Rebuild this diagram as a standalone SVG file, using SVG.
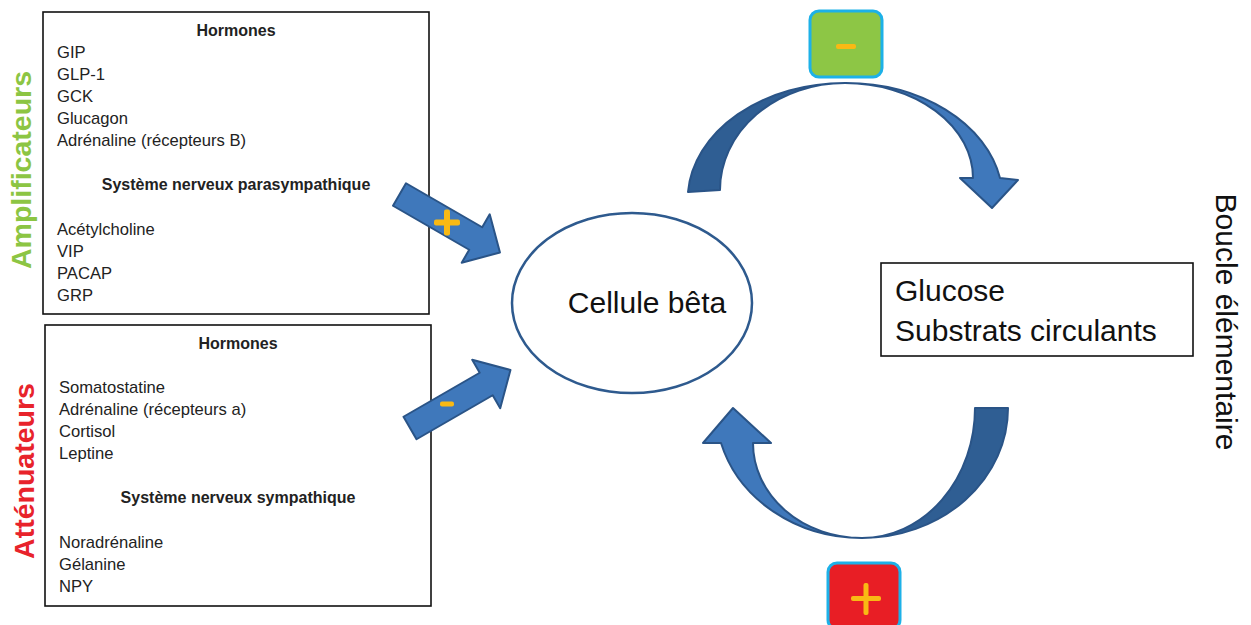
<svg xmlns="http://www.w3.org/2000/svg" width="1251" height="625" viewBox="0 0 1251 625">
<style>
.box{fill:#fff;stroke:#111;stroke-width:1.6}
.t{font-family:"Liberation Sans",Arial,sans-serif;font-size:16.6px;fill:#222}
.b{font-weight:bold;text-anchor:middle;font-size:16px}
.big{font-family:"Liberation Sans",Arial,sans-serif;font-size:30px;fill:#111}
.side{font-family:"Liberation Sans",Arial,sans-serif;font-size:28.5px;font-weight:bold;text-anchor:middle}
.light{fill:#3F78BB;stroke:#2A5487;stroke-width:2;stroke-linejoin:round}
.dark{fill:#2F5E93;stroke:#2A5487;stroke-width:2;stroke-linejoin:round}
.sign{fill:#F9B914}
.badge{stroke:#1DB1E8;stroke-width:3}
</style>
<defs>
<polygon id="arr" points="0,-13 88,-13 88,-28 116,0 88,28 88,13 0,13"/>
</defs>

<g id="amplificateurs">
<rect class="box" x="43" y="12" width="386" height="302"/>
<text class="t b" x="236" y="36">Hormones</text>
<text class="t" x="57" y="58">GIP</text>
<text class="t" x="57" y="80">GLP-1</text>
<text class="t" x="57" y="102">GCK</text>
<text class="t" x="57" y="124">Glucagon</text>
<text class="t" x="57" y="146">Adrénaline (récepteurs B)</text>
<text class="t b" x="236" y="190">Système nerveux parasympathique</text>
<text class="t" x="57" y="235">Acétylcholine</text>
<text class="t" x="57" y="257">VIP</text>
<text class="t" x="57" y="279">PACAP</text>
<text class="t" x="57" y="301">GRP</text>
<text class="side" transform="translate(31,170) rotate(-90)" fill="#8CC543">Amplificateurs</text>
</g>

<g id="attenuateurs">
<rect class="box" x="45" y="325" width="386" height="281"/>
<text class="t b" x="238" y="349">Hormones</text>
<text class="t" x="59" y="393">Somatostatine</text>
<text class="t" x="59" y="415">Adrénaline (récepteurs a)</text>
<text class="t" x="59" y="437">Cortisol</text>
<text class="t" x="59" y="459">Leptine</text>
<text class="t b" x="238" y="503">Système nerveux sympathique</text>
<text class="t" x="59" y="548">Noradrénaline</text>
<text class="t" x="59" y="570">Gélanine</text>
<text class="t" x="59" y="592">NPY</text>
<text class="side" transform="translate(34,471) rotate(-90)" fill="#E8232B">Atténuateurs</text>
</g>

<g id="cellule">
<ellipse cx="632" cy="303" rx="120" ry="90" fill="#fff" stroke="#2E5A8E" stroke-width="2.5"/>
<text class="big" x="647" y="313" text-anchor="middle">Cellule bêta</text>
</g>

<g id="glucose">
<rect x="881" y="263" width="312" height="93" fill="#fff" stroke="#111" stroke-width="1.6"/>
<text class="big" x="895" y="301">Glucose</text>
<text class="big" x="895" y="341">Substrats circulants</text>
</g>

<g id="boucle">
<text class="big" transform="translate(1216,322) rotate(90)" text-anchor="middle" font-size="31">Boucle élémentaire</text>
</g>

<g id="badge-minus">
<rect class="badge" x="810" y="11" width="72" height="66" rx="9" fill="#8DC645"/>
<rect class="sign" x="836" y="44" width="20" height="5" rx="2"/>
</g>

<g id="badge-plus">
<rect class="badge" x="828" y="563" width="72" height="66" rx="9" fill="#E81E25"/>
<rect class="sign" x="851" y="596" width="30" height="5" rx="2"/>
<rect class="sign" x="863.5" y="583" width="5" height="32" rx="2"/>
</g>

<g id="connectors">
<path class="dark" d="M688,192 A157,117 0 0 1 845,83 A125,107 0 0 0 720,190 Z"/>
<path class="light" d="M845,83 A157,117 0 0 1 1000,178 L1018,180 L992,208 L960,178 L973,178 A128,95 0 0 0 845,83 Z"/>
<path class="dark" d="M1008,408 A146,130 0 0 1 862,538 A113,130 0 0 0 975,408 Z"/>
<path class="light" d="M862,538 A146,130 0 0 1 721,443 L703,443 L733,408 L771,443 L753,443 A109,95 0 0 0 862,538 Z"/>
<use href="#arr" class="light" transform="translate(399.5,194.5) rotate(30)"/>
<use href="#arr" class="light" transform="translate(410,428) rotate(-30)"/>
<rect class="sign" x="434" y="219.5" width="26" height="6" rx="2"/>
<rect class="sign" x="444" y="209.5" width="6" height="26" rx="2"/>
<rect class="sign" x="440" y="401.5" width="14" height="5" rx="2"/>
</g>
</svg>
